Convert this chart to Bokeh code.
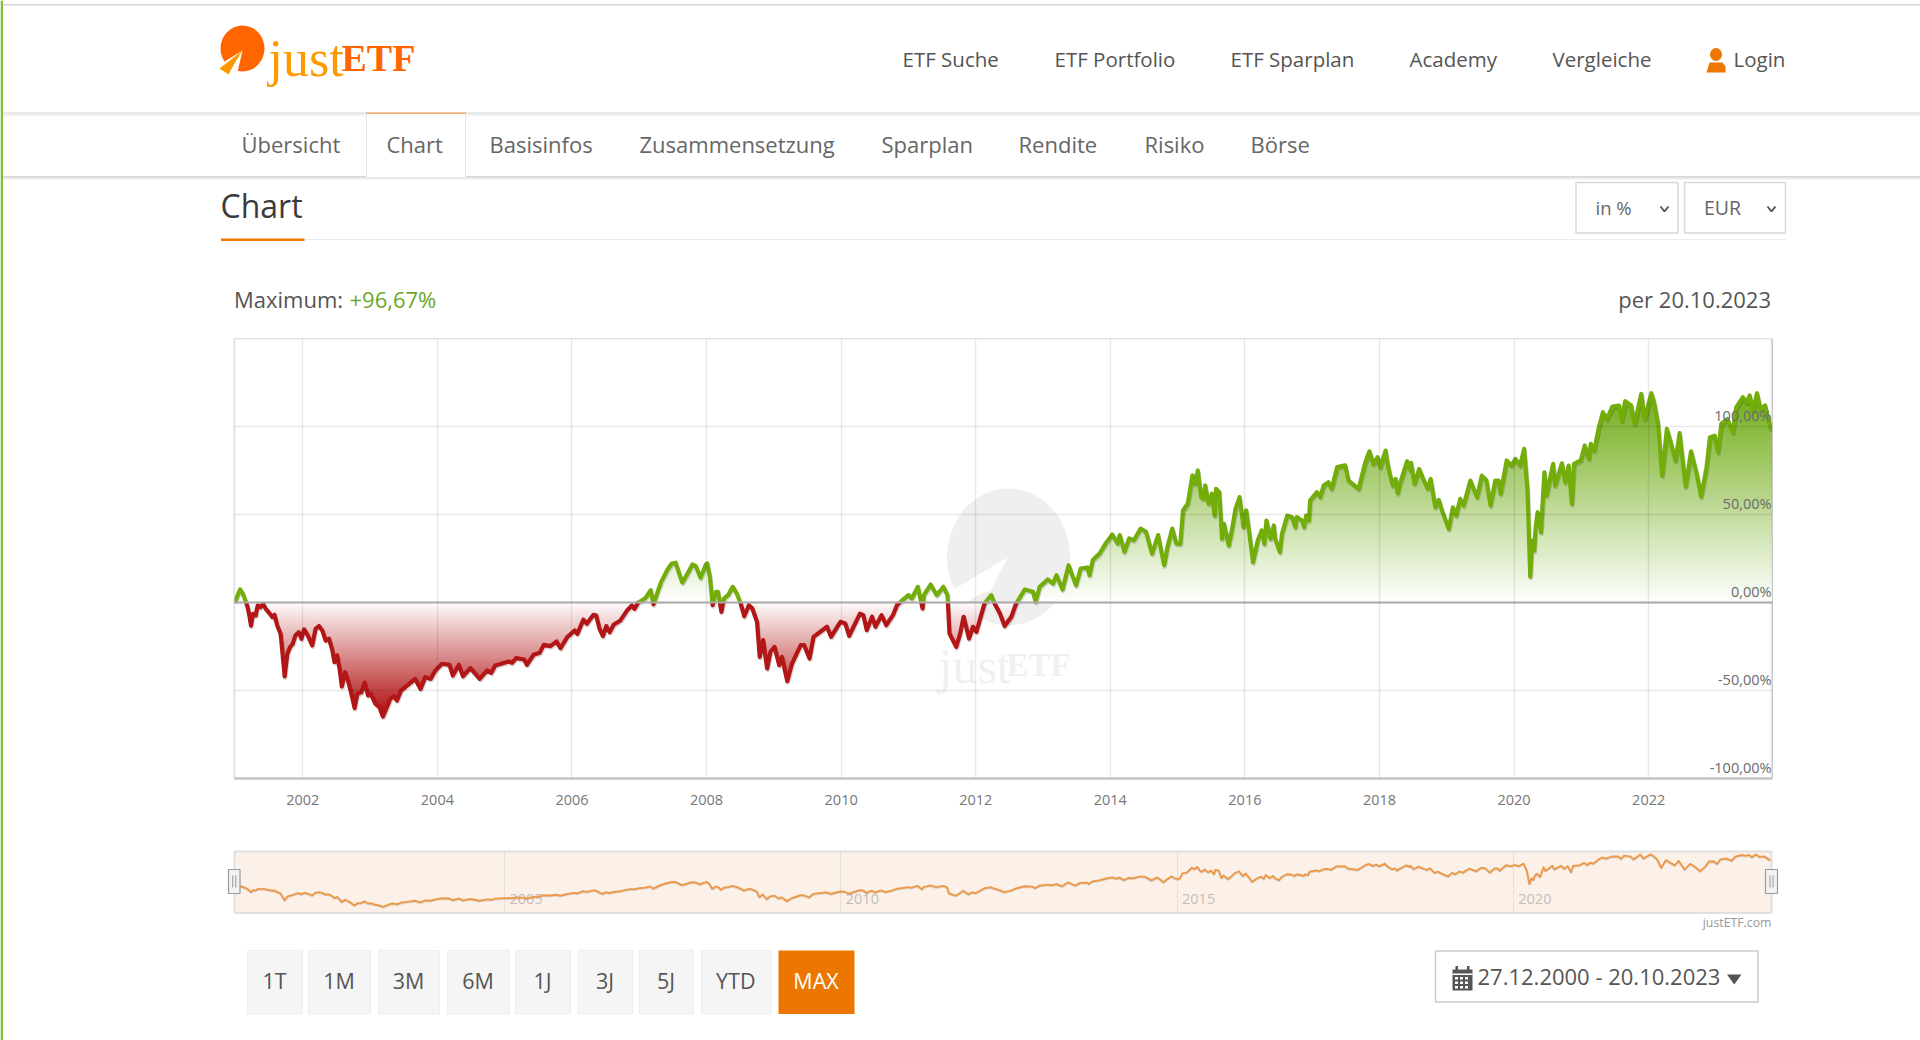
import numpy as np
from bokeh.plotting import figure
from bokeh.layouts import column
from bokeh.models import Range1d, FixedTicker, Span
from bokeh.core.properties import value
from bokeh.embed import file_html
from bokeh.resources import INLINE

# ---- data ---------------------------
years = [2000.99,2001.03,2001.07,2001.11,2001.16,2001.18,2001.21,2001.23,2001.26,2001.30,2001.33,2001.37,2001.41,2001.45,2001.50,2001.55,2001.58,2001.62,2001.67,2001.69,2001.73,2001.77,2001.81,2001.85,2001.89,2001.94,2001.98,
2002.02,2002.07,2002.14,2002.19,2002.24,2002.29,2002.34,2002.39,2002.44,2002.47,2002.51,2002.55,2002.58,2002.63,2002.67,2002.71,2002.77,2002.81,2002.87,2002.92,2002.97,
2003.01,2003.08,2003.14,2003.19,2003.25,2003.30,2003.35,2003.40,2003.46,2003.55,2003.67,2003.75,2003.82,2003.90,2003.97,
2004.07,2004.18,2004.23,2004.32,2004.38,2004.49,2004.63,2004.74,2004.80,2004.86,
2005.06,2005.11,2005.17,2005.29,2005.33,2005.43,2005.52,2005.58,2005.68,2005.77,2005.83,2005.93,
2006.04,2006.08,2006.17,2006.22,2006.32,2006.36,2006.41,2006.46,2006.51,2006.56,2006.62,2006.72,2006.82,2006.89,2006.93,2006.98,
2007.09,2007.17,2007.21,2007.32,2007.42,2007.48,2007.54,2007.64,2007.71,2007.79,2007.84,2007.91,2007.99,
2008.01,2008.05,2008.09,2008.14,2008.17,2008.22,2008.26,2008.32,2008.39,2008.45,2008.51,2008.56,2008.63,2008.68,2008.75,2008.79,2008.84,2008.90,2008.95,
2009.01,2009.08,2009.12,2009.20,2009.27,2009.40,2009.45,2009.53,2009.59,2009.79,2009.85,2009.99,
2010.06,2010.12,2010.28,2010.33,2010.38,2010.46,2010.51,2010.60,2010.67,2010.77,2010.83,2010.90,
2011.00,2011.05,2011.14,2011.21,2011.23,2011.33,2011.42,2011.52,2011.58,2011.61,2011.71,2011.77,2011.82,2011.90,2011.96,
2012.01,2012.13,2012.23,2012.28,2012.36,2012.43,2012.53,2012.60,2012.73,2012.85,2012.89,2012.95,
2013.07,2013.15,2013.20,2013.29,2013.38,2013.49,2013.56,2013.66,2013.69,2013.74,2013.84,2013.93,
2014.03,2014.11,2014.14,2014.21,2014.28,2014.35,2014.45,2014.53,2014.62,2014.71,2014.80,2014.85,2014.92,2014.98,
2015.04,2015.08,2015.15,2015.22,2015.26,2015.30,2015.35,2015.38,2015.41,2015.46,2015.51,2015.55,2015.57,2015.62,2015.66,2015.69,2015.76,2015.81,2015.86,2015.92,2015.98,
2016.02,2016.07,2016.12,2016.19,2016.25,2016.29,2016.32,2016.38,2016.43,2016.45,2016.52,2016.55,2016.63,2016.70,2016.75,2016.77,2016.85,2016.88,2016.91,2016.95,2016.97,
2017.07,2017.12,2017.17,2017.24,2017.29,2017.37,2017.49,2017.54,2017.69,2017.74,2017.79,2017.85,2017.91,2017.97,
2018.01,2018.09,2018.12,2018.16,2018.20,2018.24,2018.27,2018.31,2018.41,2018.46,2018.47,2018.52,2018.59,2018.66,2018.72,2018.76,2018.83,2018.88,2018.93,
2019.03,2019.09,2019.14,2019.20,2019.25,2019.35,2019.45,2019.52,2019.59,2019.65,2019.72,2019.77,2019.80,2019.89,2019.96,
2020.02,2020.09,2020.15,2020.20,2020.24,2020.27,2020.30,2020.32,2020.35,2020.40,2020.45,2020.48,2020.58,2020.61,2020.71,2020.76,2020.81,2020.86,2020.89,2020.99,
2021.05,2021.11,2021.14,2021.19,2021.26,2021.32,2021.38,2021.46,2021.56,2021.60,2021.65,2021.74,2021.79,2021.89,2021.94,
2022.04,2022.08,2022.14,2022.20,2022.27,2022.32,2022.40,2022.46,2022.55,2022.63,2022.72,2022.78,2022.86,2022.91,2022.98,
2023.03,2023.08,2023.17,2023.25,2023.30,2023.40,2023.46,2023.50,2023.55,2023.61,2023.66,2023.73,2023.82]
pct = [0,4,7.4,4.9,-0.2,-2.7,-8.3,-13.1,-6.4,-7.4,-1.7,-2.7,-0.8,-3.6,-5.9,-8.3,-7,-13.1,-17.8,-25.4,-42,-29.2,-25.4,-23.5,-18.8,-16.9,-20.6,
-15.3,-18.4,-24.4,-15,-13.4,-15.9,-21.6,-20.6,-27.3,-33.9,-30.1,-38.6,-47.7,-39.6,-44.3,-50,-60,-51.9,-51,-45.6,-52.8,
-51.9,-57.6,-59.5,-64.8,-59.5,-54.7,-53.2,-55.7,-50,-47.2,-43.4,-49.1,-42.4,-43.4,-38.6,
-34.8,-35.4,-41.5,-35.4,-41.9,-37.3,-43.4,-38.6,-40,-35.8,
-33.5,-34.3,-31.6,-32.4,-35.4,-29.7,-28.6,-24.1,-24.8,-22.2,-26,-19.7,
-15.9,-17.8,-9.7,-12.1,-7,-7.4,-15,-19.1,-13.4,-16.9,-12.7,-10.2,-4.5,-1.7,-3.6,-0.2,
2.4,7,-1,11.3,18.8,22,22.6,11.3,16,21.6,20.7,14.1,21.6,
22.2,14.6,-1.5,6.1,6.1,-5.3,2.3,4.2,8.9,5.1,-0.9,-7.8,-1.5,-3.4,-11,-30.9,-21.4,-37.5,-28,
-25.2,-35.6,-30.9,-44.7,-34.7,-24.2,-24.2,-31.8,-19.5,-13.8,-19.5,-11,
-11.9,-18.9,-6.3,-7.2,-15.7,-8.1,-13.8,-7.2,-12.9,-7.2,-1.5,0.9,
4.2,2.3,8.9,-3.4,4.2,10.2,4.2,8.9,4.2,-17.6,-25.2,-17.6,-8.1,-20.5,-13.8,
-16.7,-0.6,4.2,-0.6,-6.3,-13.4,-8.1,-0.6,7.4,6.1,0.4,8.9,
13.1,10.8,15.5,7.4,21.2,9.8,19.3,19.9,15.5,24.1,27.8,33.5,
38.6,33.5,38.3,28.8,36.4,35.4,42,40.2,27.8,38.3,21.2,31.6,42,33.5,
33.3,52.3,56.1,72.2,67.4,75,59.9,58.9,66.5,56.1,61.8,49.4,64.6,62.7,36.2,44.7,32.4,41.9,53.2,59.9,42.8,
52.3,38.1,22.9,35.2,40.9,33.3,46.6,36.2,43.8,36.2,28.6,39,49.4,48.5,42.8,48.5,46.6,42.8,49.4,46.6,58,
62.7,59.9,66.5,68.4,64.6,76.9,77.9,69.3,64.6,72.2,79.8,85.9,78.7,82.5,
76.9,86.3,78.8,72.1,66.4,70.2,62.1,68.3,80.3,75,79.3,67.4,75.9,69.3,64.6,70.2,54.1,58.3,52.2,
41.8,54.1,49.4,58.9,55.1,69.3,59.8,72.1,69.3,55.1,69.3,69.3,61.7,80.7,77.8,
81.6,77.8,87.3,63.6,14.7,35.2,29.5,42.8,51.3,39.9,74,60.8,78.8,66.4,79.1,68.3,77.8,56,78.8,80.7,
89.2,81.6,90.1,86.3,99.6,108.1,104.3,111.3,111.9,103.4,114.4,111.9,101.5,118.5,104.3,
118.9,113.8,101.5,72.1,98.6,92,80.6,96.2,65.9,85.9,72.1,60.2,76.9,93.9,94.8,
85.4,101.5,104.3,96.7,110.9,116.6,113.8,117.6,109.1,118.9,110,111.9,98]
year_ticks = [2002,2004,2006,2008,2010,2012,2014,2016,2018,2020,2022]
pct_ticks = [-100,-50,0,50,100]
pct_labels = ["-100,00%","-50,00%","0,00%","50,00%","100,00%"]
nav_ticks = [2005,2010,2015,2020]
nav_labels = ["2005","2010","2015","2020"]
nav_tabs = ["ETF Suche","ETF Portfolio","ETF Sparplan","Academy","Vergleiche","Login"]
sub_tabs = ["Übersicht","Chart","Basisinfos","Zusammensetzung","Sparplan","Rendite","Risiko","Börse"]
buttons = ["1T","1M","3M","6M","1J","3J","5J","YTD","MAX"]

FONT = value("Open Sans")
SERIF = value("Liberation Serif")

def abspos(l, t):
    return {"position": "absolute", "left": f"{l}px", "top": f"{t}px"}

def blank(l, t, w, h):
    f = figure(width=w, height=h, x_range=Range1d(0, w), y_range=Range1d(h, 0), x_axis_type=None, y_axis_type=None,
               toolbar_location=None, output_backend="svg", min_border=0, outline_line_color=None,
               background_fill_alpha=0, border_fill_alpha=0, styles=abspos(l, t))
    return f

page = blank(0, 0, 1920, 1040)

def box(l, r, t, b, fill="#ffffff", line=None, lw=1, f=page, alpha=1):
    f.quad(left=[l], right=[r], top=[t], bottom=[b], fill_color=fill, fill_alpha=alpha, line_color=line, line_width=lw)

def txt(x, y, s, size, color="#555555", align="left", font=FONT, style="normal", f=page):
    f.text(x=[x], y=[y], text=[s], text_font=font, text_font_size=f"{size}px", text_color=color,
           text_align=align, text_baseline="middle", text_font_style=style)

# page frame
box(0, 2.5, 0, 1040, "#7fbf3a")
box(2.5, 1920, 3.5, 5, "#d9d9d9")
for i, c in enumerate(["#d8d8d8", "#e2e2e2", "#ececec", "#f5f5f5"]):
    box(2.5, 1920, 112 + i, 113 + i, c)
    box(2.5, 1920, 175.5 + i, 176.5 + i, c)

# logo
page.ellipse(x=[242], y=[48], width=[44], height=[46], fill_color="#ff6600", line_color=None)
page.patch([242, 216, 224, 236], [50, 66, 80, 76], fill_color="#ffffff", line_color=None)
page.patch([242, 219, 228, 234], [50, 68, 74, 63], fill_color="#ff9900", line_color=None)
txt(268, 58, "just", 52, "#ff9900", font=SERIF)
txt(341, 57, "ETF", 38, "#ff6600", font=SERIF, style="bold")

# nav
for x, s in zip([902, 1054, 1230, 1409, 1552, 1733], nav_tabs):
    txt(x, 58.5, s, 20.5)
page.ellipse(x=[1715.5], y=[54], width=[12], height=[13], fill_color="#ee7700", line_color=None)
page.patch([1706, 1709, 1722, 1725, 1725, 1706], [72, 62, 62, 66, 72, 72], fill_color="#ee7700", line_color=None)

# tabs
box(366, 465, 112, 177, "#ffffff", "#e6e6e6")
box(366, 465, 112, 113.5, "#eeaa66")
for x, s in zip([241, 386, 489, 639, 881, 1018, 1144, 1250], sub_tabs):
    txt(x, 143.5, s, 22, "#666666")

# title row
txt(220, 205, "Chart", 32, "#3a3a3a")
box(304, 1785, 238.5, 239.5, "#e6edf2")
box(220.5, 304, 238, 240.5, "#ee7700")
box(1575.5, 1677.5, 182, 232.5, "#ffffff", "#d8d8d8", 1.5)
box(1684, 1785, 182, 232.5, "#ffffff", "#d8d8d8", 1.5)
txt(1595, 206.5, "in %", 18.5, "#666666")
txt(1703.5, 206.5, "EUR", 19.5, "#666666")
for cx in (1664, 1771):
    page.line([cx - 4, cx, cx + 4], [206, 211, 206], line_color="#555555", line_width=2)

txt(233.5, 298.5, "Maximum:", 22, "#555555")
txt(349, 298.5, "+96,67%", 22, "#6aa82a")
txt(1770.5, 298.5, "per 20.10.2023", 22, "#555555", align="right")

# watermark
page.ellipse(x=[1008], y=[556.5], width=[123], height=[137], fill_color="#efefef", line_color=None)
page.patch([1007, 948, 950, 983, 990], [557, 592, 610, 592, 590], fill_color="#ffffff", line_color=None)
txt(938, 665, "just", 50, "#f0f0f0", font=SERIF)
txt(1006, 664, "ETF", 33, "#f0f0f0", font=SERIF, style="bold")

# navigator frame
box(234, 1771, 851, 912.5, "#fbf1e8", "#e0e0e0", 2)
txt(1771, 921.5, "justETF.com", 12.3, "#999999", align="right")

# buttons
for s, l, r in zip(buttons, [247, 308, 378, 447, 515, 577.5, 639, 701, 778], [302, 370, 439, 509, 570, 632.5, 693, 770.5, 854]):
    on = s == "MAX"
    box(l, r, 950, 1013.5, "#ec7700" if on else "#f5f5f5", None if on else "#eeeeee")
    txt((l + r) / 2 - 0.5, 980, s, 21.5, "#ffffff" if on else "#555555", align="center")

# date box
box(1435, 1757.5, 950.5, 1001.5, "#ffffff", "#cccccc", 1.5)
box(1452, 1472, 969, 990, "#555555")
box(1452, 1472, 973, 974.5, "#ffffff")
box(1455, 1457.5, 965.5, 970.5, "#555555")
box(1466.5, 1469, 965.5, 970.5, "#555555")
for ry in (976.5, 981, 985.5):
    for rx in (1454.5, 1459.5, 1464.5):
        box(rx, rx + 3, ry, ry + 2.5, "#ffffff")
txt(1477, 975.5, "27.12.2000 - 20.10.2023", 22, "#555555")
page.patch([1726.5, 1741, 1733.7], [974, 974, 984], fill_color="#555555", line_color=None)

# chart side borders (the chart's frame fills its own figure)
box(233, 234.5, 338, 778, "#dcdcdc")
box(1771, 1772.5, 338, 778, "#c8c8c8")

# ---- chart series helpers ----
x0 = np.array(years, float)
y0 = np.array(pct, float)
xs, ys = [x0[0]], [y0[0]]
for a, b, u, v in zip(x0[:-1], x0[1:], y0[:-1], y0[1:]):
    if u * v < 0:
        xs.append(a + (b - a) * u / (u - v))
        ys.append(0.0)
    xs.append(b)
    ys.append(v)
xs = np.array(xs)
ys = np.array(ys)
up = np.clip(ys, 0, None)
dn = np.clip(ys, None, 0)

def mix(c, t):
    r = [int(round(255 + (k - 255) * t)) for k in c]
    return "#%02x%02x%02x" % tuple(r)

chart = figure(width=1538, height=480, x_range=Range1d(2000.985, 2023.84), y_range=Range1d(-100, 150),
               toolbar_location=None, output_backend="svg", min_border=0, min_border_left=0, min_border_right=0,
               min_border_top=0, min_border_bottom=40, background_fill_alpha=0, border_fill_alpha=0,
               outline_line_color="#e2e2e2", outline_line_width=1.5, styles=abspos(234, 338))

# gradient: painted from the far band towards zero
vals = np.arange(118, 0, -1.5)
for v in vals:
    chart.varea(x=xs, y1=np.zeros_like(up), y2=np.minimum(up, v), fill_color=mix((0x74, 0xae, 0x1c), min(v / 118, 1)), level="underlay")
vals = np.arange(66, 0, -1.5)
for v in vals:
    chart.varea(x=xs, y1=np.zeros_like(dn), y2=np.maximum(dn, -v), fill_color=mix((0xb4, 0x18, 0x18), min(v / 62, 1)), level="underlay")

chart.xaxis.ticker = FixedTicker(ticks=year_ticks)
chart.yaxis.ticker = FixedTicker(ticks=[-100, -50, 0, 50, 100, 150])
chart.yaxis.visible = False
chart.xaxis.major_tick_line_color = None
chart.xaxis.minor_tick_line_color = None
chart.xaxis.axis_line_color = "#c6c6c6"
chart.xaxis.axis_line_width = 2.5
chart.xaxis.major_label_standoff = 10
chart.xaxis.major_label_text_font = "Open Sans"
chart.xaxis.major_label_text_font_size = "14.5px"
chart.xaxis.major_label_text_color = "#777777"
chart.grid.grid_line_color = "#000000"
chart.grid.grid_line_alpha = 0.09
chart.grid.grid_line_width = 1.5
chart.grid.level = "glyph"

chart.add_layout(Span(location=0, dimension="width", line_color="#aaaaaa", line_width=2, level="glyph"))
chart.line(xs + 0.012, ys - 0.9, line_color="#000000", line_alpha=0.16, line_width=4.2, line_join="round")
chart.line(xs, np.where(ys >= 0, ys, np.nan), line_color="#72ad0a", line_width=4.2, line_join="round")
chart.line(xs, np.where(ys <= 0, ys, np.nan), line_color="#b31616", line_width=4.2, line_join="round")
chart.text(x=[2023.84] * len(pct_ticks), y=pct_ticks, text=pct_labels, text_font=FONT, text_font_size="14.5px",
           text_color="#6a6a6a", text_align="right", text_baseline="middle", x_offset=-1, y_offset=-11)

# ---- navigator ----
nav = figure(width=1537, height=62, x_range=Range1d(2000.985, 2023.84), y_range=Range1d(-88, 129),
             toolbar_location=None, output_backend="svg", min_border=0, background_fill_alpha=0,
             border_fill_alpha=0, outline_line_color=None, styles=abspos(234, 851))
nav.xaxis.ticker = FixedTicker(ticks=nav_ticks)
nav.xaxis.visible = False
nav.yaxis.visible = False
nav.ygrid.visible = False
nav.xgrid.grid_line_color = "#000000"
nav.xgrid.grid_line_alpha = 0.07
nav.xgrid.grid_line_width = 1
nav.text(x=nav_ticks, y=[-37] * len(nav_ticks), text=nav_labels, text_font=FONT, text_font_size="14.5px",
         text_color="#c4beb8", text_align="left", text_baseline="middle", x_offset=5)
nav.line(x0, y0 - 3, line_color="#000000", line_alpha=0.12, line_width=2)
nav.line(x0, y0, line_color="#ec9a4a", line_width=1.9, line_join="round")

# ---- handles on top ----
top = blank(0, 0, 1920, 1040)
for l, r in ((228, 239.5), (1765, 1777)):
    box(l, r, 869, 893, "#f2f2f2", "#999999", 1.2, f=top)
    cx = (l + r) / 2
    top.segment(x0=[cx - 1.5, cx + 1.5], y0=[875, 875], x1=[cx - 1.5, cx + 1.5], y1=[887, 887], line_color="#999999", line_width=1)

root = column(page, chart, nav, top, width=1920, height=1040, styles=abspos(0, 0))
open("out.html", "w").write(file_html(root, INLINE))
